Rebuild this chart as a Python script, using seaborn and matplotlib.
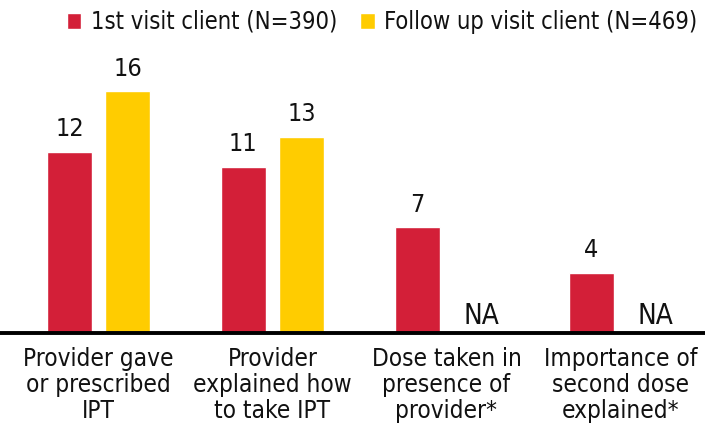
import matplotlib
matplotlib.use("Agg")
import matplotlib.pyplot as plt
import seaborn as sns
import pandas as pd
import numpy as np
from matplotlib.font_manager import fontManager

categories = [
    "Provider gave\nor prescribed\nIPT",
    "Provider\nexplained how\nto take IPT",
    "Dose taken in\npresence of\nprovider*",
    "Importance of\nsecond dose\nexplained*",
]
series_names = ["1st visit client (N=390)", "Follow up visit client (N=469)"]
first_visit = [12, 11, 7, 4]
follow_up = [16, 13, np.nan, np.nan]
colors = ["#D31F38", "#FFCC00"]

# Prefer a narrow sans face if one is available
family, stretch = "DejaVu Sans", "normal"
fonts = fontManager.ttflist
if any(f.name == "Liberation Sans Narrow" for f in fonts):
    family, stretch = "Liberation Sans Narrow", "normal"
elif any(f.name == "DejaVu Sans" and f.stretch == "condensed" for f in fonts):
    family, stretch = "DejaVu Sans", "condensed"
else:
    for f in fonts:
        if "condensed" in f.name.lower() or "narrow" in f.name.lower():
            family, stretch = f.name, "normal"
            break

sns.set_theme(style="white")
plt.rcParams["font.family"] = [family, "DejaVu Sans"]
plt.rcParams["font.stretch"] = stretch

df = pd.DataFrame({
    "category": categories * 2,
    "group": [series_names[0]] * 4 + [series_names[1]] * 4,
    "value": first_visit + follow_up,
})

fig = plt.figure(figsize=(7.05, 4.29), dpi=100)
ax = fig.add_axes([0, 96 / 429, 1, 333 / 429])

sns.barplot(data=df, x="category", y="value", hue="group",
            hue_order=series_names, palette=colors, width=0.667, gap=0.22,
            saturation=1, ax=ax, errorbar=None)

offset = 0.167
for i, (a, b) in enumerate(zip(first_visit, follow_up)):
    ax.text(i - offset, a + 0.7, f"{a:g}", ha="center", va="bottom",
            fontsize=18, color="#111111")
    if np.isnan(b):
        ax.text(i + 0.2, 0.6, "NA", ha="center", va="baseline",
                fontsize=20, color="#111111")
    else:
        ax.text(i + offset, b + 0.7, f"{b:g}", ha="center", va="bottom",
                fontsize=18, color="#111111")

ax.set_xlim(-0.566, 3.486)
ax.set_ylim(0, 22.05)
ax.set_xlabel("")
ax.set_ylabel("")
ax.set_yticks([])
ax.tick_params(axis="x", length=0, pad=10, labelsize=17.5)
for lbl in ax.get_xticklabels():
    lbl.set_linespacing(1.1)
    lbl.set_color("#111111")
for s in ["top", "left", "right"]:
    ax.spines[s].set_visible(False)
ax.spines["bottom"].set_linewidth(2.8)
ax.spines["bottom"].set_color("black")

leg = ax.legend(loc="center", bbox_to_anchor=(0.542, 0.934), ncol=2,
                frameon=False, fontsize=17, handlelength=0.62,
                handleheight=0.68, handletextpad=0.42, columnspacing=0.95,
                borderaxespad=0, borderpad=0)
for t in leg.get_texts():
    t.set_color("#111111")

fig.savefig("out.png", dpi=100)
